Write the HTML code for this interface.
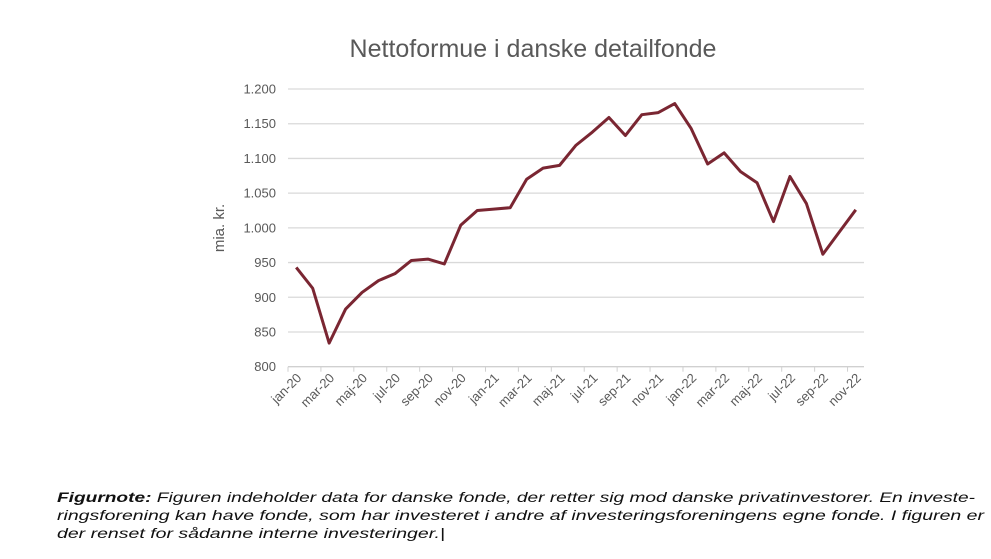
<!DOCTYPE html>
<html><head><meta charset="utf-8"><style>
body{margin:0;width:991px;height:559px;background:#fff;overflow:hidden;font-family:"Liberation Sans",sans-serif}
</style></head><body>
<svg width="991" height="559" style="position:absolute;left:0;top:0">
<text x="533" y="57" text-anchor="middle" font-size="25" fill="#595959" font-family="Liberation Sans, sans-serif">Nettoformue i danske detailfonde</text>
<text transform="translate(224,228) rotate(-90)" text-anchor="middle" font-size="15" fill="#595959">mia. kr.</text>
<g id="grid"></g><g id="ylab"></g><g id="xax"></g><g id="series"></g>
<g font-size="14" font-style="italic" fill="#111">
<text x="57" y="502" textLength="918" lengthAdjust="spacingAndGlyphs"><tspan font-weight="bold">Figurnote:</tspan> Figuren indeholder data for danske fonde, der retter sig mod danske privatinvestorer. En investe-</text>
<text x="57" y="520" textLength="927" lengthAdjust="spacingAndGlyphs">ringsforening kan have fonde, som har investeret i andre af investeringsforeningens egne fonde. I figuren er</text>
<text x="57" y="538" textLength="388" lengthAdjust="spacingAndGlyphs">der renset for sådanne interne investeringer.|</text>
</g>
</svg>
<script>
const categories=["jan-20","feb-20","mar-20","apr-20","maj-20","jun-20","jul-20","aug-20","sep-20","okt-20","nov-20","dec-20","jan-21","feb-21","mar-21","apr-21","maj-21","jun-21","jul-21","aug-21","sep-21","okt-21","nov-21","dec-21","jan-22","feb-22","mar-22","apr-22","maj-22","jun-22","jul-22","aug-22","sep-22","okt-22","nov-22"];
const values=[943,913,834,883,907,924,934,953,955,948,1004,1025,1027,1029,1070,1086,1090,1119,1138,1159,1133,1163,1166,1179,1143,1092,1108,1081,1065,1009,1074,1035,962,994,1026];
const yTicks=[800,850,900,950,1000,1050,1100,1150,1200];
const yTickLabels=["800","850","900","950","1.000","1.050","1.100","1.150","1.200"];
const NS="http://www.w3.org/2000/svg";
const X0=288,X1=864,Y0=366.7,Y1=89,VMIN=800,VMAX=1200;
const bw=(X1-X0)/categories.length;
const x=i=>X0+bw*(i+0.5);
const y=v=>Y0-(v-VMIN)/(VMAX-VMIN)*(Y0-Y1);
function mk(tag,attrs,parent){const e=document.createElementNS(NS,tag);for(const k in attrs)e.setAttribute(k,attrs[k]);document.getElementById(parent).appendChild(e);return e;}
yTicks.forEach((t,i)=>{
 const l=mk("line",{x1:X0,x2:X1,y1:y(t),y2:y(t),stroke:i==0?"#d0d0d0":"#d9d9d9","stroke-width":1.3},"grid");
 
 
 const tx=mk("text",{x:276,y:y(t)+4.5,"text-anchor":"end","font-size":13,fill:"#595959"},"ylab");
 tx.textContent=yTickLabels[i];
 
 
});
categories.forEach((c,i)=>{
 if(i%2==0){
  const tk=mk("line",{x1:X0+bw*i,x2:X0+bw*i,y1:Y0,y2:Y0+5,stroke:"#d0d0d0","stroke-width":1},"xax");
  
  
  const tx=mk("text",{transform:`translate(${x(i)+6},${Y0+12}) rotate(-45)`,"text-anchor":"end","font-size":13,fill:"#595959"},"xax");
  tx.textContent=c;
  
  
 }
});
const p=mk("polyline",{points:values.map((v,i)=>x(i)+","+y(v)).join(" "),fill:"none",stroke:"#7a2632","stroke-width":3,"stroke-linejoin":"round"},"series");


</script>
</body></html>
